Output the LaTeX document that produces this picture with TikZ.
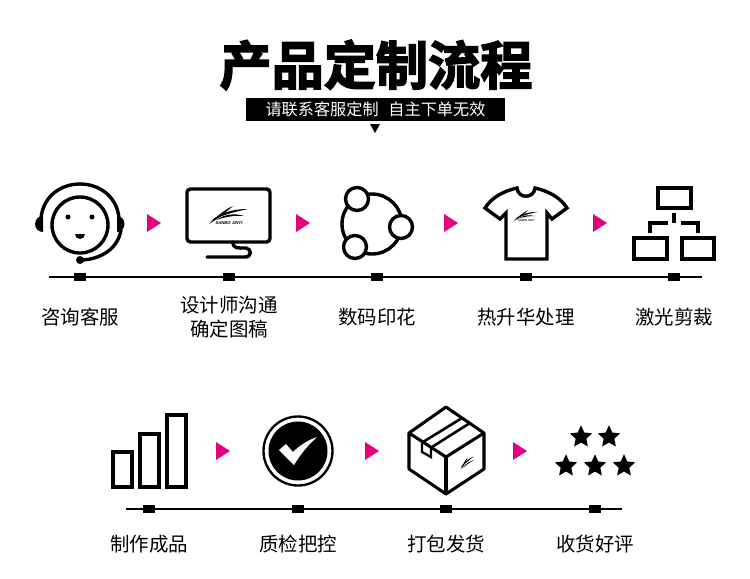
\documentclass[tikz,border=0pt]{standalone}
\usepackage{fontspec}
\setmainfont{Noto Sans CJK SC}[BoldFont={Noto Sans CJK SC Bold},BoldFeatures={FakeBold=3}]
\setsansfont{Liberation Sans}
\usetikzlibrary{positioning,shapes.geometric}
\definecolor{inkblack}{RGB}{0,0,0}
\definecolor{flowpink}{RGB}{230,0,126}
\newcommand{\brandmark}[4]{%
  \begin{scope}[shift={(#1,#2)},scale=#3]
    \fill[inkblack] (-20,10) .. controls (-11,1) and (-3,-5) .. (4,-8) .. controls (-3,-2) and (-10,4) .. cycle;
    \fill[inkblack] (-18,7) .. controls (-9,-1) and (3,-5) .. (19,-5) .. controls (5,-2) and (-7,1) .. cycle;
    \fill[inkblack] (-13,6) .. controls (-4,0) and (6,-1) .. (15,2) .. controls (6,1) and (-4,3) .. cycle;
    \node[font=\sffamily\bfseries\itshape, scale=#4, inner sep=0pt] (#1mark) at (0,9) {SANBO JINYI};
  \end{scope}}
\tikzset{
  iconline/.style={inkblack, line width=2.9pt, line join=miter},
  thinline/.style={inkblack, line width=1.7pt},
  tickbox/.style={rectangle, fill=inkblack, inner sep=0pt, minimum width=10.2pt, minimum height=6.8pt},
  steplab/.style={font=\fontsize{16.6pt}{21pt}\selectfont, align=center, inner sep=0pt, inkblack},
  flowtip/.style={fill=flowpink, draw=none},
  starnode/.style={star, star points=5, star point ratio=2.1, fill=inkblack, inner sep=0pt, minimum size=20pt},
}
\begin{document}
\begin{tikzpicture}[x=0.03cm,y=-0.03cm]
  \useasboundingbox (0,0) rectangle (750,578);
  % heading
  \node[font=\fontsize{44.5pt}{50pt}\selectfont\bfseries, inner sep=0pt] (title) at (376,65) {产品定制流程};
  \node[fill=inkblack, text=white, font=\fontsize{13.8pt}{18pt}\selectfont, minimum width=221pt, minimum height=19.6pt, inner sep=0pt] (subbar) at (375.5,109.5) {请联系客服定制\hspace{0.6em}自主下单无效};
  \fill[inkblack] (370,124) -- (380,124) -- (375,133) -- cycle;

  % time lines
  \coordinate (rowa) at (49,277);
  \coordinate (rowb) at (702,277);
  \coordinate (rowc) at (126,509);
  \coordinate (rowd) at (622,509);
  \draw[thinline] (rowa) -- (rowb);
  \draw[thinline] (rowc) -- (rowd);
  \foreach \x/\nm in {80/ta,229/tb,377/tc,526/td,674/te}
    \node[tickbox] (\nm) at (\x,277) {};
  \foreach \x/\nm in {149/tf,298/tg,446/th,595/ti}
    \node[tickbox] (\nm) at (\x,509) {};

  % arrows between steps
  \foreach \x in {147,296,444,593}
    \path[flowtip] (\x,214) -- (\x+14,223) -- (\x,232) -- cycle;
  \foreach \x in {216,365,513}
    \path[flowtip] (\x,442) -- (\x+14,451) -- (\x,460) -- cycle;

  % labels
  \node[steplab] (laba) at (80,317) {咨询客服};
  \node[steplab] (labb) at (229,317) {设计师沟通\\确定图稿};
  \node[steplab] (labc) at (377,317) {数码印花};
  \node[steplab] (labd) at (526,317) {热升华处理};
  \node[steplab] (labe) at (674,317) {激光剪裁};
  \node[steplab] (labf) at (149,544) {制作成品};
  \node[steplab] (labg) at (298,544) {质检把控};
  \node[steplab] (labh) at (446,544) {打包发货};
  \node[steplab] (labi) at (595,544) {收货好评};

  % headset
  \draw[iconline] (80,225) circle (28);
  \draw[iconline] (41,218) .. controls (43,197) and (60,184) .. (80,184) .. controls (100,184) and (117,197) .. (119,218);
  \draw[iconline, line cap=round] (121,230) .. controls (118,248) and (102,259) .. (82,260);
  \fill[inkblack] (80,260) circle (4);
  \fill[inkblack] (43,216) arc (270:90:8 and 8) -- cycle;
  \fill[inkblack] (117,216) arc (-90:90:7.5 and 8) -- cycle;
  \fill[inkblack] (68,217) circle (2.5);
  \fill[inkblack] (92,217) circle (2.5);
  \fill[inkblack] (75,234) arc (180:0:5 and 5) -- cycle;

  % monitor
  \draw[iconline, rounded corners=3pt] (187,189) rectangle (270,242);
  \draw[iconline, line cap=round] (233,242) .. controls (233,249) and (238,248) .. (246,248) .. controls (252,249) and (252,257) .. (245,257) -- (207,257);
  \brandmark{229}{214}{1}{0.36}

  % share icon
  \draw[iconline] (372,224) circle (30);
  \draw[iconline, fill=white] (357,199) circle (11.5);
  \draw[iconline, fill=white] (401,227) circle (11.5);
  \draw[iconline, fill=white] (355,247) circle (11.5);

  % t-shirt
  \draw[iconline] (517,188) .. controls (518,199) and (534,199) .. (535,188)
    .. controls (548,191) and (560,197) .. (567,208) -- (552,219) -- (547,213) -- (547,259) -- (506,259) -- (506,213) -- (500,219) -- (485,208)
    .. controls (492,197) and (504,191) .. cycle;
  \brandmark{526}{215}{0.62}{0.22}

  % org chart
  \draw[iconline] (658,188) rectangle (691,208);
  \draw[iconline] (634,238) rectangle (667,259);
  \draw[iconline] (682,238) rectangle (714,259);
  \draw[iconline] (674,213) -- (674,223);
  \draw[iconline] (668,223) -- (650,223) -- (650,233);
  \draw[iconline] (681,223) -- (698,223) -- (698,233);

  % bars
  \draw[iconline] (113,452) rectangle (132,487);
  \draw[iconline] (140,434) rectangle (159,487);
  \draw[iconline] (167,415) rectangle (186,487);

  % check badge
  \draw[inkblack, line width=2pt] (298,451) circle (34.5);
  \fill[inkblack] (298,451) circle (29.5);
  \fill[white] (279,450) -- (286,444) -- (293,452) .. controls (299,446) and (308,440) .. (317,437) .. controls (308,445) and (300,455) .. (294,465) -- cycle;

  % parcel
  \draw[iconline, line width=2.6pt, line join=round] (446,407) -- (484,433) -- (484,469) -- (446,494) -- (409,469) -- (409,433) -- cycle;
  \draw[iconline, line width=2.6pt, line join=round] (409,433) -- (446,457) -- (484,433);
  \draw[iconline, line width=2.6pt] (446,457) -- (446,494);
  \draw[iconline, line width=2.2pt] (423,442) -- (462,418);
  \draw[iconline, line width=2.2pt] (432,447) -- (470,423);
  \draw[iconline, line width=2pt] (422,442) -- (422,452) -- (431,457) -- (431,447);
  \begin{scope}[shift={(467,462)},rotate=27,scale=0.48]
    \fill[inkblack] (-18,8) .. controls (-9,0) and (-2,-5) .. (6,-8) .. controls (-2,-2) and (-9,4) .. cycle;
    \fill[inkblack] (-18,5) .. controls (-9,-1) and (3,-5) .. (18,-4) .. controls (5,-1) and (-7,1) .. cycle;
    \fill[inkblack] (-14,7) .. controls (-4,2) and (6,1) .. (15,3) .. controls (6,3) and (-4,5) .. cycle;
  \end{scope}

  % stars
  \node[starnode] (stara) at (581,437) {};
  \node[starnode] (starb) at (609,437) {};
  \node[starnode] (starc) at (566,466) {};
  \node[starnode] (stard) at (595,466) {};
  \node[starnode] (stare) at (624,466) {};
\end{tikzpicture}
\end{document}
